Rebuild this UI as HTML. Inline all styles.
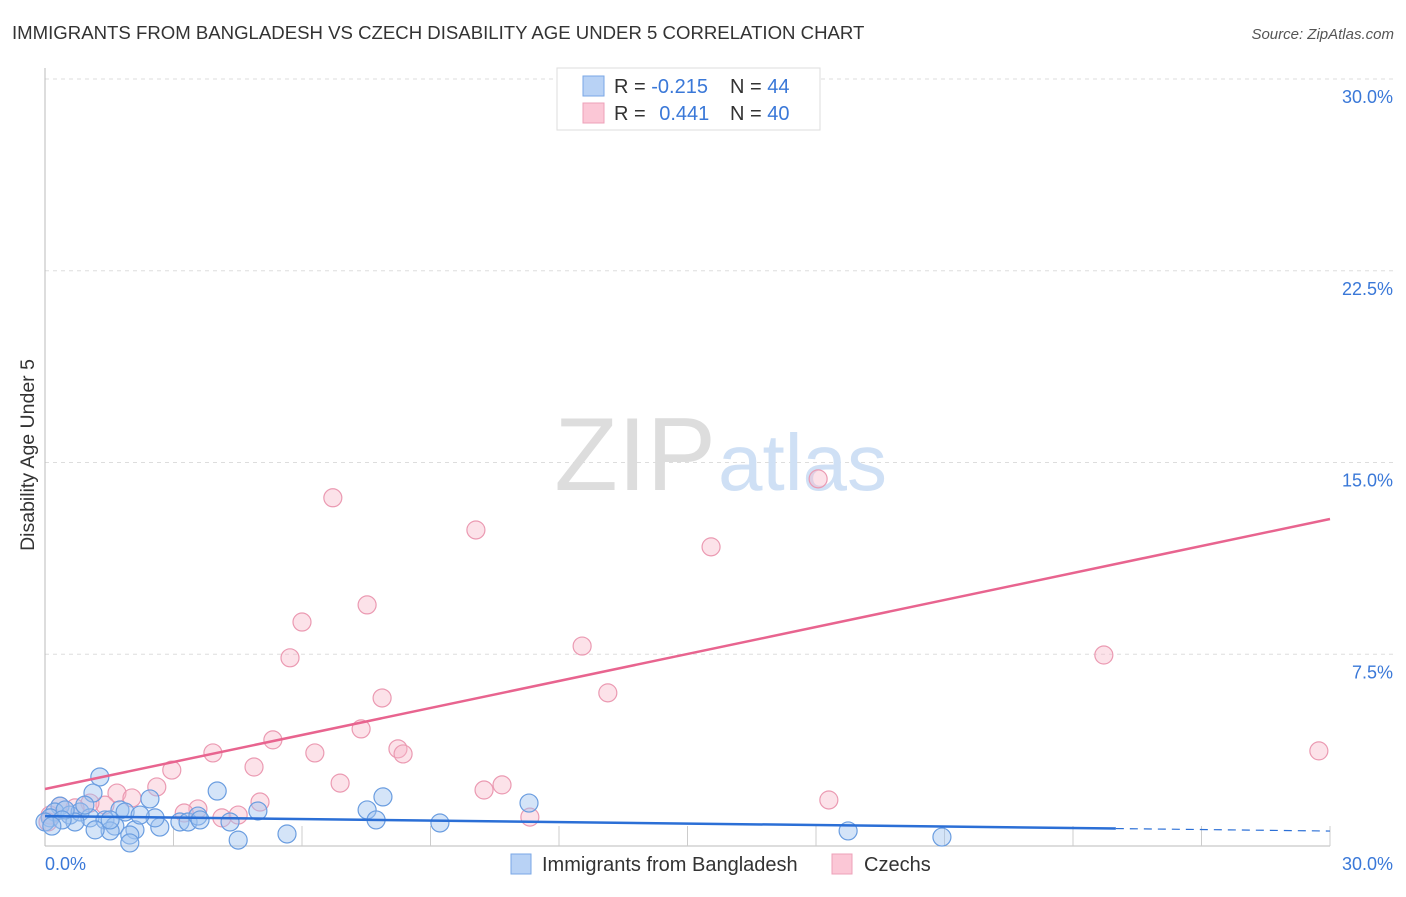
<!DOCTYPE html>
<html><head><meta charset="utf-8"><style>
body{margin:0;background:#fff;font-family:"Liberation Sans",sans-serif}
svg text{font-family:"Liberation Sans",sans-serif}
</style></head><body>
<svg id="c" width="1406" height="892">
<text x="12" y="39" font-size="18.6" fill="#333">IMMIGRANTS FROM BANGLADESH VS CZECH DISABILITY AGE UNDER 5 CORRELATION CHART</text>
<text x="1394" y="39" font-size="15" fill="#555" font-style="italic" text-anchor="end">Source: ZipAtlas.com</text>
<text x="34" y="455" font-size="19.5" fill="#333" text-anchor="middle" transform="rotate(-90 34 455)">Disability Age Under 5</text>
<g id="grid"></g>
<text x="716" y="490" font-size="104" fill="#ddd" font-family="Liberation Serif" text-anchor="end">ZIP</text>
<text x="718" y="490" font-size="80" fill="#cfe0f5">atlas</text>
<g id="marks"></g>
<g>
<rect x="557" y="68" width="263" height="62" fill="#fff" stroke="#ddd"/>
<rect x="583" y="76" width="21" height="20" fill="#b8d2f5" stroke="#7aa7e6"/>
<rect x="583" y="103" width="21" height="20" fill="#fbc7d6" stroke="#eea0b8"/>
<text x="614" y="93" font-size="20" fill="#333">R = <tspan fill="#3a78d8">-0.215</tspan></text>
<text x="730" y="93" font-size="20" fill="#333">N = <tspan fill="#3a78d8">44</tspan></text>
<text x="614" y="120" font-size="20" fill="#333">R = <tspan fill="#3a78d8" dx="8">0.441</tspan></text>
<text x="730" y="120" font-size="20" fill="#333">N = <tspan fill="#3a78d8">40</tspan></text>
</g>
<g>
<rect x="511" y="854" width="20" height="20" fill="#b8d2f5" stroke="#7aa7e6"/>
<text x="542" y="871" font-size="20" fill="#333">Immigrants from Bangladesh</text>
<rect x="832" y="854" width="20" height="20" fill="#fbc7d6" stroke="#eea0b8"/>
<text x="864" y="871" font-size="20" fill="#333">Czechs</text>
</g>
</svg>
<script>
const yTicks=[7.5,15,22.5,30];
const yTickLabels=["7.5%","15.0%","22.5%","30.0%"];
const xTickLabels=["0.0%","30.0%"];
const blueX=[1.28,4.02,2.45,1.12,7.89,11.30,4.97,7.52,7.73,9.22,1.75,1.87,0.35,0.23,0.58,0.82,1.05,0.70,1.40,1.63,1.52,1.17,2.10,1.98,2.68,3.15,3.34,3.57,4.32,2.57,0.12,0.47,5.65,4.51,18.75,20.94,1.98,0.00,0.93,2.22,3.62,0.40,1.52,0.16];
const blueY=[2.70,2.15,1.84,2.07,1.92,1.68,1.37,1.41,1.02,0.90,1.41,1.33,1.56,1.33,1.21,1.33,1.10,0.94,1.02,0.78,0.59,0.63,0.63,0.43,0.74,0.94,0.94,1.17,0.94,1.10,1.10,1.41,0.47,0.23,0.59,0.35,0.12,0.94,1.60,1.21,1.02,1.02,1.02,0.78];
const pinkX=[6.72,10.06,7.52,6.00,5.72,7.87,7.38,5.32,3.92,6.30,8.24,8.36,4.88,2.96,6.89,2.61,1.68,2.03,5.02,10.25,10.67,3.57,3.25,4.13,4.51,1.40,1.05,0.70,0.35,0.12,0.07,11.32,18.30,18.05,15.55,12.54,13.14,24.72,29.74,16.83];
const pinkY=[13.62,12.36,9.43,8.76,7.36,5.79,4.58,4.15,3.64,3.64,3.80,3.60,3.09,2.97,2.46,2.31,2.07,1.88,1.72,2.19,2.39,1.45,1.29,1.10,1.21,1.60,1.68,1.49,1.56,1.21,0.94,1.13,1.80,14.36,11.70,7.82,5.99,7.47,3.72,28.60];
const blueTrend=[1.17,-0.0195];
const pinkTrend=[2.23,0.352];
const NS="http://www.w3.org/2000/svg";
const X0=45,X1=1330,Y0=846,Y1=79;
const sx=v=>X0+v/30*(X1-X0), sy=v=>Y0-v/30*(Y0-Y1);
function mk(t,a,p){const e=document.createElementNS(NS,t);for(const k in a)e.setAttribute(k,a[k]);p.appendChild(e);return e;}
const g=document.getElementById('grid'), m=document.getElementById('marks');
yTicks.forEach((v,i)=>{
 const l=mk('line',{x1:X0,x2:1393,y1:sy(v),y2:sy(v),stroke:'#ddd','stroke-dasharray':'4,4'},g);
 
 
 const t=mk('text',{x:1393,y:sy(v)+24,'font-size':18,fill:'#3a78d8','text-anchor':'end'},g);t.textContent=yTickLabels[i];
 
 
});
const ax=mk('line',{x1:X0,x2:X0,y1:68,y2:Y0,stroke:'#bbb'},g);


const bx=mk('line',{x1:X0,x2:X1,y1:Y0,y2:Y0,stroke:'#bbb'},g);


for(let i=1;i<=10;i++){const t=mk('line',{x1:sx(i*3),x2:sx(i*3),y1:Y0-20,y2:Y0,stroke:'#ccc'},g);
 
 }
[[0,'start',X0],[1,'end',1393]].forEach(([i,a,x])=>{const t=mk('text',{x:x,y:870,'font-size':18,fill:'#3a78d8','text-anchor':a},g);t.textContent=xTickLabels[i];
 
 });
pinkX.forEach((v,i)=>{const c=mk('circle',{cx:sx(v),cy:sy(pinkY[i]),r:9,fill:'rgba(248,182,200,0.4)',stroke:'#eb9ab2','stroke-width':1.2},m);
 
 });
blueX.forEach((v,i)=>{const c=mk('circle',{cx:sx(v),cy:sy(blueY[i]),r:9,fill:'rgba(160,196,240,0.45)',stroke:'#6a9de0','stroke-width':1.2},m);
 
 });
const pl=mk('line',{x1:sx(0),y1:sy(pinkTrend[0]),x2:sx(30),y2:sy(pinkTrend[0]+30*pinkTrend[1]),stroke:'#e8648f','stroke-width':2.5},m);


const bl=mk('line',{x1:sx(0),y1:sy(blueTrend[0]),x2:sx(25),y2:sy(blueTrend[0]+25*blueTrend[1]),stroke:'#2b6fd6','stroke-width':2.5},m);


const bd=mk('line',{x1:sx(25),y1:sy(blueTrend[0]+25*blueTrend[1]),x2:sx(30),y2:sy(blueTrend[0]+30*blueTrend[1]),stroke:'#2b6fd6','stroke-width':1.2,'stroke-dasharray':'8,6'},m);


</script>
</body></html>
